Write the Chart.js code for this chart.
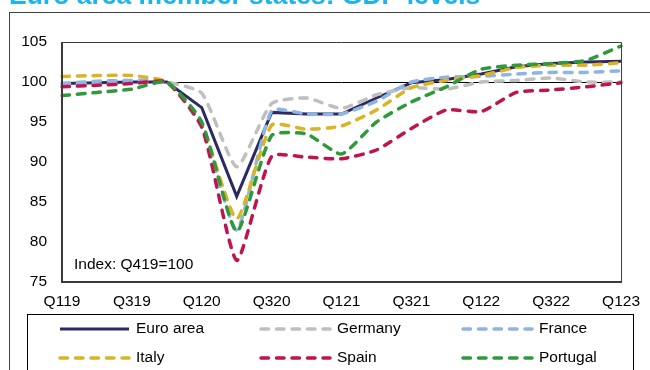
<!DOCTYPE html>
<html>
<head>
<meta charset="utf-8">
<script src="https://cdn.jsdelivr.net/npm/chart.js@4.4.1/dist/chart.umd.min.js"></script>
<style>
  html, body { margin: 0; padding: 0; background: #fff; overflow: hidden; }
  #wrap { position: relative; width: 650px; height: 370px; }
</style>
</head>
<body>
<div id="wrap"><canvas id="c" width="650" height="370"></canvas></div>
<script>
// Quarterly GDP levels, index Q4 2019 = 100
const quarters = ['Q119','Q219','Q319','Q419','Q120','Q220','Q320','Q420','Q121','Q221','Q321','Q421','Q122','Q222','Q322','Q422','Q123'];
const seriesNames = ['Euro area', 'Germany', 'France', 'Italy', 'Spain', 'Portugal'];
const euroArea = [99.8, 99.9, 100.0, 100, 96.8, 85.7, 96.2, 96.0, 96.0, 98.0, 99.9, 100.3, 101.0, 101.9, 102.3, 102.5, 102.6];
const germany  = [99.8, 99.7, 99.9, 100, 98.6, 89.4, 97.3, 98.0, 96.7, 98.4, 99.3, 99.1, 100.0, 100.2, 100.5, 100.0, 100.0];
const france   = [99.8, 100.1, 100.2, 100, 94.3, 81.5, 96.4, 96.0, 96.0, 97.6, 100.0, 100.6, 100.7, 101.0, 101.2, 101.2, 101.4];
const italy    = [100.7, 100.8, 100.8, 100, 94.6, 82.9, 94.6, 94.1, 94.5, 96.5, 99.3, 100.2, 100.8, 101.8, 102.1, 102.1, 102.4];
const spain    = [99.4, 99.6, 99.8, 100, 94.4, 77.7, 90.7, 90.6, 90.4, 91.5, 94.2, 96.5, 96.3, 98.7, 99.0, 99.4, 99.9];
const portugal = [98.3, 98.7, 99.1, 100, 95.0, 81.3, 93.3, 93.5, 91.0, 95.0, 97.5, 99.4, 101.6, 102.1, 102.3, 102.7, 104.5];
const yTicks = [75, 80, 85, 90, 95, 100, 105];

const FONT = "'Liberation Sans', Arial, sans-serif";
const DASH = [7.5, 8];

function dashed(label, data, color, order) {
  return {
    label, data, order,
    borderColor: color, backgroundColor: color,
    borderWidth: 3.5, borderDash: DASH, borderCapStyle: 'round',
    tension: 0.18, pointRadius: 0, fill: false
  };
}

const datasets = [
  { label: seriesNames[0], data: euroArea, order: 5, borderColor: '#2B2A63', backgroundColor: '#2B2A63',
    borderWidth: 3, tension: 0, pointRadius: 0, fill: false, borderJoinStyle: 'miter' },
  dashed(seriesNames[1], germany, '#BFBFBF', 4),
  dashed(seriesNames[2], france, '#8DB4E2', 3),
  dashed(seriesNames[3], italy, '#DAB422', 2),
  dashed(seriesNames[4], spain, '#BE1550', 1),
  dashed(seriesNames[5], portugal, '#2E9A3C', 0)
];

// Frame, title, plot border, note and the boxed three-column legend
const decorations = {
  id: 'decorations',
  afterDatasetsDraw(chart) {
    const ctx = chart.ctx;
    const a = chart.chartArea;
    ctx.save();
    // plot area border
    ctx.strokeStyle = '#3a3a3a';
    ctx.lineWidth = 1;
    ctx.beginPath();
    ctx.moveTo(a.left, a.top + 0.5); ctx.lineTo(a.right + 0.5, a.top + 0.5); ctx.lineTo(a.right + 0.5, a.bottom);
    ctx.stroke();
    ctx.lineWidth = 2;
    ctx.beginPath();
    ctx.moveTo(a.left, a.top); ctx.lineTo(a.left, a.bottom); ctx.lineTo(a.right + 1, a.bottom);
    ctx.stroke();
    // note inside the plot
    ctx.fillStyle = '#000';
    ctx.font = '15.5px ' + FONT;
    ctx.textBaseline = 'middle';
    ctx.textAlign = 'left';
    ctx.fillText('Index: Q419=100', 74, 265);
    ctx.restore();
  },
  afterDraw(chart) {
    const ctx = chart.ctx;
    ctx.save();
    // outer frame
    ctx.strokeStyle = '#404040';
    ctx.lineWidth = 1;
    ctx.strokeRect(9.5, 12.5, 700, 400);
    // title
    ctx.fillStyle = '#1EB4EA';
    ctx.font = 'bold 26.5px ' + FONT;
    ctx.textBaseline = 'alphabetic';
    ctx.textAlign = 'left';
    ctx.fillText('Euro area member states: GDP levels', 9, 3.5);
    // legend box
    ctx.strokeStyle = '#000';
    ctx.lineWidth = 1;
    ctx.strokeRect(27.5, 314.5, 606, 80);
    const cols = [60, 261, 463];
    const rows = [329, 358];
    chart.data.datasets.forEach((ds, i) => {
      const x = cols[i % 3];
      const y = rows[Math.floor(i / 3)];
      ctx.save();
      ctx.strokeStyle = ds.borderColor;
      ctx.lineWidth = ds.borderWidth;
      ctx.lineCap = ds.borderDash ? 'round' : 'butt';
      ctx.setLineDash(ds.borderDash || []);
      ctx.beginPath();
      ctx.moveTo(x, y); ctx.lineTo(x + 69, y);
      ctx.stroke();
      ctx.restore();
      ctx.fillStyle = '#000';
      ctx.font = '15.5px ' + FONT;
      ctx.textBaseline = 'middle';
      ctx.fillText(ds.label, x + 76, y);
    });
    ctx.restore();
  }
};

new Chart(document.getElementById('c'), {
  type: 'line',
  data: { labels: quarters, datasets },
  plugins: [decorations],
  options: {
    responsive: false,
    animation: false,
    devicePixelRatio: 1,
    layout: { padding: { top: 42, right: 21, left: 0, bottom: 0 } },
    plugins: { legend: { display: false }, tooltip: { enabled: false }, title: { display: false } },
    scales: {
      x: {
        type: 'category',
        offset: false,
        grid: { display: false, drawTicks: false },
        border: { display: false },
        ticks: {
          autoSkip: false, maxRotation: 0, minRotation: 0,
          color: '#000', font: { family: FONT, size: 15.5 }, padding: 10,
          callback: (v, i) => (i % 2 === 0 ? quarters[i] : '')
        },
        afterFit: s => { s.height = 88; }
      },
      y: {
        min: yTicks[0], max: yTicks[yTicks.length - 1],
        afterBuildTicks: s => { s.ticks = yTicks.map(v => ({ value: v })); },
        grid: {
          drawTicks: false,
          color: c => (c.tick && c.tick.value === 100 ? '#000' : 'rgba(0,0,0,0)'),
          lineWidth: 1
        },
        border: { display: false },
        ticks: { color: '#000', font: { family: FONT, size: 15.5 }, padding: 15 },
        afterFit: s => { s.width = 62; }
      }
    }
  }
});
</script>
</body>
</html>
